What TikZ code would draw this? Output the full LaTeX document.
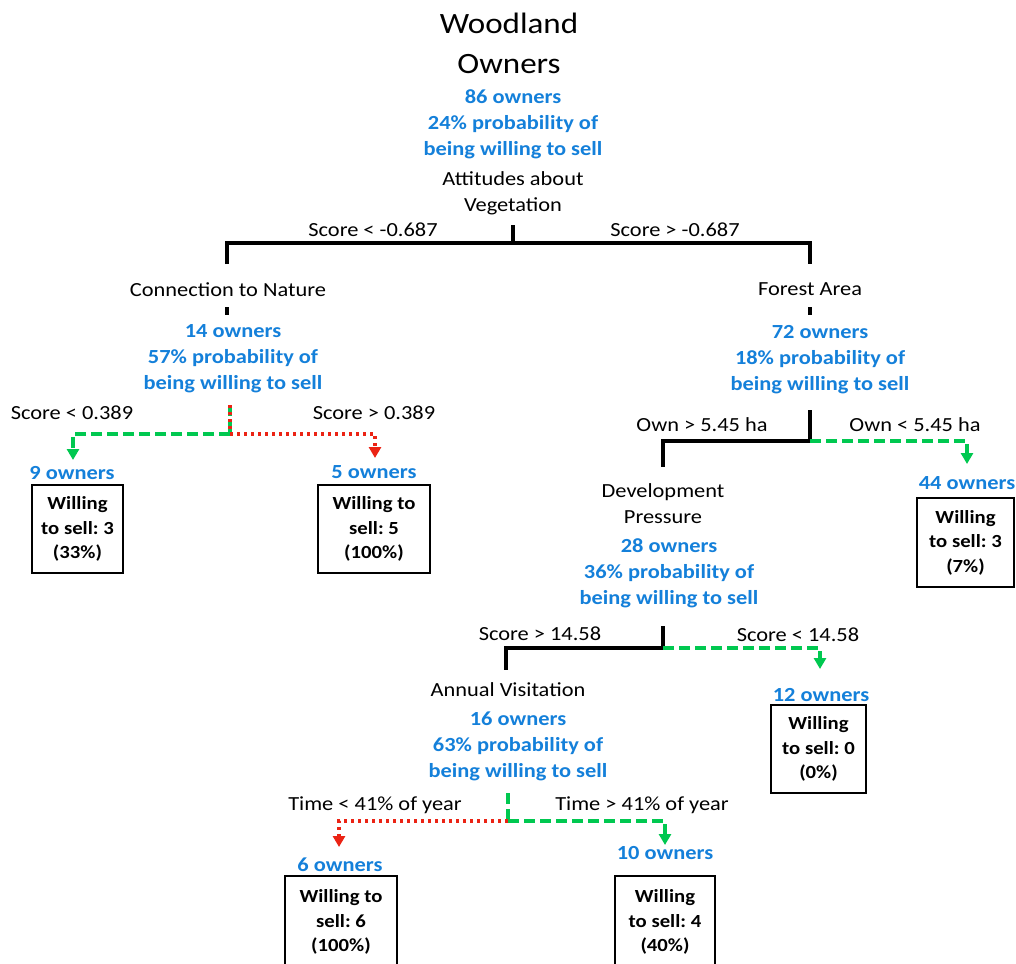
\documentclass[tikz,border=0pt]{standalone}
\usepackage{fontspec}
\setmainfont{Carlito}[FakeStretch=1.12]
\usetikzlibrary{arrows.meta}
\definecolor{owblue}{RGB}{20,128,218}
\definecolor{owgreen}{RGB}{0,200,80}
\definecolor{owred}{RGB}{235,35,20}
\frenchspacing
\begin{document}
\begin{tikzpicture}[x=1pt,y=-1pt,
  titletext/.style={font=\fontsize{29.5}{40}\selectfont, align=center, inner sep=0pt},
  vartext/.style={font=\fontsize{20}{26}\selectfont, align=center, inner sep=0pt},
  cnttext/.style={font=\fontsize{20}{26}\selectfont\bfseries, text=owblue, align=center, inner sep=0pt},
  condtext/.style={font=\fontsize{20}{24}\selectfont, inner sep=0pt},
  leafbox/.style={draw, line width=2pt, font=\fontsize{18.5}{24.5}\selectfont\bfseries, align=center, inner sep=0pt},
  treeline/.style={line width=3.5pt, black},
  gdash/.style={line width=3.5pt, owgreen, dash pattern=on 11pt off 5pt},
  rdot/.style={line width=3.5pt, owred, dash pattern=on 3pt off 4pt},
  tipg/.style={-{Triangle[width=12pt,length=11pt]}},
]
\useasboundingbox (0,0) rectangle (1016,963);
\fill[white] (0,0) rectangle (1016,963);

% root
\node[titletext] (root) at (509,43) {Woodland\\Owners};
\node[cnttext] (rootc) at (513,124) {86 owners\\24\% probability of\\being willing to sell};
\node[vartext] (att) at (513,193) {Attitudes about\\Vegetation};
\node[condtext] (c1l) at (373,230) {Score < -0.687};
\node[condtext] (c1r) at (675,230) {Score > -0.687};
\coordinate (j1) at (513,225);
\coordinate (j1b) at (513,243);
\coordinate (cnTop) at (227,264);
\coordinate (faTop) at (810,264);
\draw[treeline] (j1) -- (j1b);
\draw[treeline] (cnTop) -- ++(0,-21) -| (faTop);

% connection to nature
\node[vartext] (cn) at (228,290) {Connection to Nature};
\coordinate (cnT1) at (227,307);
\coordinate (cnT2) at (227,315);
\draw[treeline] (cnT1) -- (cnT2);
\node[cnttext] (cnc) at (233,359) {14 owners\\57\% probability of\\being willing to sell};
\coordinate (s2) at (230,405);
\coordinate (j2) at (230,434);
\coordinate (a9) at (73,460);
\coordinate (a5) at (375,458);
\draw[gdash] (s2) -- (j2);
\draw[rdot] (s2) -- (j2);
\draw[gdash,tipg] (j2) -| (a9);
\draw[rdot,tipg] (j2) -| (a5);
\node[condtext] (c2l) at (72,413) {Score < 0.389};
\node[condtext] (c2r) at (374,413) {Score > 0.389};
\node[cnttext] (n9) at (72,473) {9 owners};
\node[cnttext] (n5) at (374,472) {5 owners};
\node[leafbox, minimum width=91pt, minimum height=88pt] (b9) at (77.5,529) {Willing\\to sell: 3\\(33\%)};
\node[leafbox, minimum width=112pt, minimum height=88pt] (b5) at (374,529) {Willing to\\sell: 5\\(100\%)};

% forest area
\node[vartext] (fa) at (810,289) {Forest Area};
\coordinate (faT1) at (810,307);
\coordinate (faT2) at (810,315);
\draw[treeline] (faT1) -- (faT2);
\node[cnttext] (fac) at (820,360) {72 owners\\18\% probability of\\being willing to sell};
\coordinate (s3) at (810,410);
\coordinate (j3) at (810,441);
\coordinate (dpTop) at (663,467);
\coordinate (a44) at (967,464);
\draw[treeline] (s3) -- (j3) -| (dpTop);
\draw[gdash,tipg] (j3) -| (a44);
\node[condtext] (c3l) at (702,425) {Own > 5.45 ha};
\node[condtext] (c3r) at (915,425) {Own < 5.45 ha};
\node[cnttext] (n44) at (967,483) {44 owners};
\node[leafbox, minimum width=97pt, minimum height=89pt] (b44) at (965.5,542.5) {Willing\\to sell: 3\\(7\%)};

% development pressure
\node[vartext] (dp) at (663,504) {Development\\Pressure};
\node[cnttext] (dpc) at (669,573) {28 owners\\36\% probability of\\being willing to sell};
\coordinate (s4) at (663,626);
\coordinate (j4) at (663,648);
\coordinate (avTop) at (506,670);
\coordinate (a12) at (820,669);
\draw[treeline] (s4) -- (j4) -| (avTop);
\draw[gdash,tipg] (j4) -| (a12);
\node[condtext] (c4l) at (540,634) {Score > 14.58};
\node[condtext] (c4r) at (798,635) {Score < 14.58};
\node[cnttext] (n12) at (821,695) {12 owners};
\node[leafbox, minimum width=95pt, minimum height=88pt] (b12) at (818.5,749) {Willing\\to sell: 0\\(0\%)};

% annual visitation
\node[vartext] (av) at (508,690) {Annual Visitation};
\node[cnttext] (avc) at (518,746) {16 owners\\63\% probability of\\being willing to sell};
\coordinate (s5) at (508,793);
\coordinate (j5) at (508,821);
\coordinate (a6) at (339,847);
\coordinate (a10) at (665,845);
\draw[gdash] (s5) -- (j5);
\draw[rdot,tipg] (j5) -| (a6);
\draw[gdash,tipg] (j5) -| (a10);
\node[condtext] (c5l) at (375,805) {Time < 41\% of year};
\node[condtext] (c5r) at (642,805) {Time > 41\% of year};
\node[cnttext] (n6) at (340,865) {6 owners};
\node[cnttext] (n10) at (665,853) {10 owners};
\node[leafbox, minimum width=112pt, minimum height=92pt] (b6) at (341,922) {Willing to\\sell: 6\\(100\%)};
\node[leafbox, minimum width=100pt, minimum height=92pt] (b10) at (665,922) {Willing\\to sell: 4\\(40\%)};
\end{tikzpicture}
\end{document}
